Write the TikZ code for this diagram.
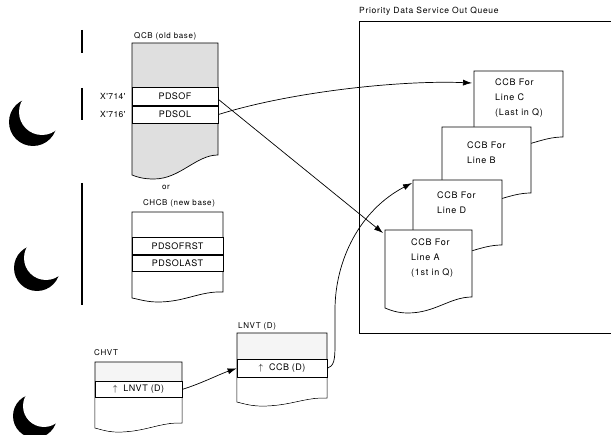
\documentclass[tikz,border=0pt]{standalone}
\usepackage{fontspec}
\setmainfont{TeX Gyre Heros}
\newfontfamily\widefont[LetterSpace=8]{TeX Gyre Heros}
\newfontfamily\rowfont[LetterSpace=5]{TeX Gyre Heros}
\usetikzlibrary{arrows.meta,positioning,calc}

\begin{document}
\begin{tikzpicture}[
    x=1pt,y=-1pt,
    blk/.style    = {draw=black, line width=0.7pt},
    rowbox/.style = {draw=black, line width=0.7pt, fill=white, inner sep=0pt,
                     font=\rowfont\fontsize{9}{10}\selectfont},
    lbl/.style    = {font=\widefont\fontsize{8}{9}\selectfont, inner sep=0pt},
    addr/.style   = {font=\rowfont\fontsize{8.5}{10}\selectfont, inner sep=0pt},
    ccbtxt/.style = {font=\widefont\fontsize{9}{15}\selectfont, align=left,
                     anchor=north west, inner sep=0pt},
    ptr/.style    = {-{Latex[length=9pt,width=6pt]}, line width=0.7pt},
    chg/.style    = {line width=1.8pt},
    hole/.style   = {fill=black},
  ]

  \useasboundingbox (0,0) rectangle (611,435);

  % punch holes and change bars of the scanned page
  \foreach \cx/\cy/\r in {33/122/24, 37/268/23, 35/416/22} {
    \fill[hole] (\cx,\cy) circle (\r);
    \fill[white] (\cx+9,\cy-10) circle (\r-1);
  }
  \draw[chg] (82,30) -- (82,53);
  \draw[chg] (82,88) -- (82,120);
  \draw[chg] (82,183) -- (82,305);

  % QCB (old base)
  \node[lbl,anchor=base west] (qcbl) at (134,39) {QCB (old base)};
  \draw[blk,fill=gray!25] (132,43) -- (218,43) -- (218,155)
       .. controls (196,155) and (180,179) .. (154,179)
       .. controls (143,179) and (137,177) .. (132,175) -- cycle;
  \node[rowbox,minimum width=86pt,minimum height=18pt,anchor=north]
       (pdsof) at (175,87) {PDSOF};
  \node[rowbox,minimum width=86pt,minimum height=17pt,anchor=north]
       (pdsol) at (pdsof.south) {PDSOL};
  \node[addr,anchor=east] (a714) at ([xshift=-6pt]pdsof.west) {X'714'};
  \node[addr,anchor=east] (a716) at ([xshift=-6pt]pdsol.west) {X'716'};

  \node[lbl] (or) at (166,187) {or};

  % CHCB (new base)
  \node[lbl,anchor=base] (chcbl) at (179,206) {CHCB (new base)};
  \draw[blk,fill=white] (132,212) -- (223,212) -- (223,292)
       .. controls (200,291) and (185,302) .. (158,302)
       .. controls (146,302) and (138,299) .. (132,298) -- cycle;
  \node[rowbox,minimum width=91pt,minimum height=17pt,anchor=north]
       (pdsofrst) at (177.5,237) {PDSOFRST};
  \node[rowbox,minimum width=91pt,minimum height=16pt,anchor=north]
       (pdsolast) at (pdsofrst.south) {PDSOLAST};

  % CHVT
  \node[lbl,anchor=base west] (chvtl) at (94,356) {CHVT};
  \draw[blk,fill=gray!8] (95,362) -- (182,362) -- (182,423)
       .. controls (160,422) and (145,432) .. (118,432)
       .. controls (107,432) and (100,429) .. (95,428) -- cycle;
  \fill[white] (95.4,397) -- (181.6,397) -- (181.6,422.6)
       .. controls (160,421.6) and (145,431.6) .. (118,431.6)
       .. controls (107,431.6) and (100,428.6) .. (95.4,427.6) -- cycle;
  \draw[blk] (95,397) -- (182,397);
  \node[rowbox,minimum width=87pt,minimum height=16pt,anchor=north]
       (chvtlnvt) at (138.5,381) {$\uparrow$\ \ LNVT (D)};

  % LNVT (D)
  \node[lbl,anchor=base west] (lnvtl) at (238,329) {LNVT (D)};
  \draw[blk,fill=gray!8] (237,333) -- (327,333) -- (327,398)
       .. controls (305,397) and (290,406) .. (262,406)
       .. controls (250,406) and (242,403) .. (237,402) -- cycle;
  \fill[white] (237.4,377) -- (326.6,377) -- (326.6,397.6)
       .. controls (305,396.6) and (290,405.6) .. (262,405.6)
       .. controls (250,405.6) and (242,402.6) .. (237.4,401.6) -- cycle;
  \draw[blk] (237,377) -- (327,377);
  \node[rowbox,minimum width=90pt,minimum height=18pt,anchor=north]
       (lnvtccb) at (282,359) {$\uparrow$\ \ CCB (D)};

  % Priority Data Service Out Queue
  \node[lbl,anchor=base west,font=\widefont\fontsize{8.5}{9}\selectfont]
       (queuel) at (359,14) {Priority Data Service Out Queue};
  \draw[blk] (611,21) -- (359,21) -- (359,333) -- (611,333);

  \draw[blk,fill=white] (474,71) -- (563,71) -- (563,137)
       .. controls (541,137) and (525,149) .. (497,149)
       .. controls (486,149) and (479,146) .. (474,145) -- cycle;
  \node[ccbtxt] (ccbc) at (495,79) {CCB For\\Line C\\(Last in Q)};

  \draw[blk,fill=white] (442,127) -- (531,127) -- (531,193)
       .. controls (509,193) and (493,205) .. (465,205)
       .. controls (454,205) and (447,202) .. (442,201) -- cycle;
  \node[ccbtxt] (ccbb) at (467,142) {CCB For\\Line B};

  \draw[blk,fill=white] (413,180) -- (502,180) -- (502,245)
       .. controls (480,245) and (464,257) .. (436,257)
       .. controls (425,257) and (418,254) .. (413,253) -- cycle;
  \node[ccbtxt] (ccbd) at (437,192) {CCB For\\Line D};

  \draw[blk,fill=white] (385,230) -- (472,230) -- (472,297)
       .. controls (450,297) and (435,313) .. (408,313)
       .. controls (397,313) and (390,310) .. (385,308) -- cycle;
  \node[ccbtxt] (ccba) at (411,239) {CCB For\\Line A\\(1st in Q)};

  \coordinate (inC) at (472,83);
  \coordinate (inA) at (383,233);
  \coordinate (inD) at (412,183);

  % pointers
  \draw[ptr] (pdsol.east) .. controls (290,92) and (400,80) .. (inC);
  \draw[ptr] ([yshift=-3pt]pdsof.east) -- (inA);
  \draw[ptr] (chvtlnvt.east) .. controls (200,384) and (220,374) .. (lnvtccb.west);
  \draw[ptr] (lnvtccb.east) .. controls (334,366) and (335,360) .. (335,345)
       -- (335,310) .. controls (335,260) and (360,210) .. (inD);

\end{tikzpicture}
\end{document}
